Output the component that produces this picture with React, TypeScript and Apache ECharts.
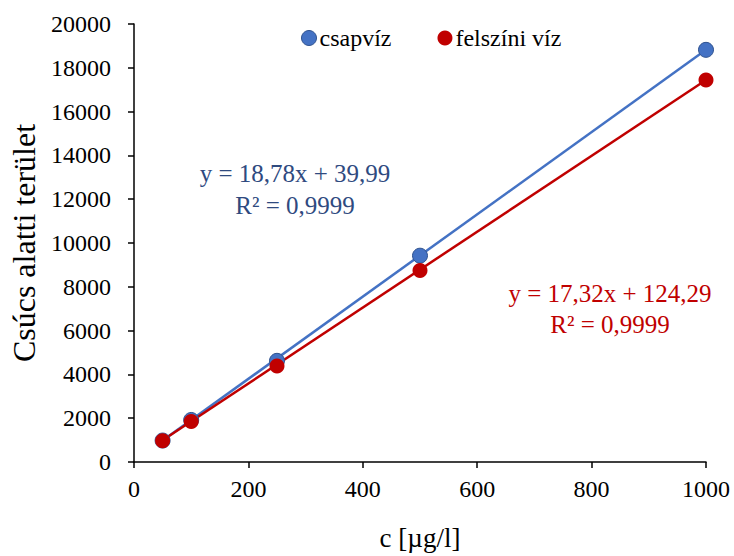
import React, { useEffect, useRef } from "react";
import * as echarts from "echarts";

const concentrations = [50, 100, 250, 500, 1000];
const tapWater = [980, 1920, 4620, 9420, 18820];
const surfaceWater = [970, 1850, 4380, 8740, 17440];
const seriesNames = ["csapvíz", "felszíni víz"];
const trendSlopes = [18.78, 17.32];
const trendIntercepts = [39.99, 124.29];
const trendRange = [50, 1000];
const eqLabels = ["y = 18,78x + 39,99\nR² = 0,9999", "y = 17,32x + 124,29\nR² = 0,9999"];

const FONT = "Liberation Serif";
const BLUE = "#4472C4";
const RED = "#C00000";

export default function App() {
  const ref = useRef<HTMLDivElement>(null);
  useEffect(() => {
    if (!ref.current) return;
    const chart = echarts.init(ref.current, undefined, { renderer: "svg" });
    const trend = (i: number) => trendRange.map((x) => [x, trendSlopes[i] * x + trendIntercepts[i]]);
    const axisLabelBase = {
      fontFamily: FONT,
      fontSize: 24,
      color: "#000",
      formatter: (v: number) => String(v),
    };
    chart.setOption({
      animation: false,
      textStyle: { fontFamily: FONT },
      grid: { left: 134, right: 28, top: 24, bottom: 92 },
      legend: {
        top: 21,
        left: 296,
        itemGap: 46,
        itemWidth: 15,
        itemHeight: 15,
        icon: "circle",
        textStyle: { fontFamily: FONT, fontSize: 24, color: "#000", padding: [0, 0, 0, -2] },
        data: [
          { name: seriesNames[0], itemStyle: { color: BLUE, borderColor: "#2F528F", borderWidth: 1, opacity: 1 } },
          { name: seriesNames[1], itemStyle: { color: RED, opacity: 1 } },
        ],
      },
      xAxis: {
        type: "value",
        min: 0,
        max: 1000,
        interval: 200,
        name: "c [µg/l]",
        nameLocation: "middle",
        nameGap: 62,
        nameTextStyle: { fontFamily: FONT, fontSize: 27, color: "#000" },
        axisLine: { show: true, lineStyle: { color: "#000", width: 1.5 } },
        axisTick: { show: true, length: 6, lineStyle: { color: "#000", width: 1.5 } },
        axisLabel: { ...axisLabelBase, margin: 15 },
        splitLine: { show: false },
      },
      yAxis: {
        type: "value",
        min: 0,
        max: 20000,
        interval: 2000,
        name: "Csúcs alatti terület",
        nameLocation: "middle",
        nameGap: 93,
        nameTextStyle: { fontFamily: FONT, fontSize: 32, color: "#000" },
        axisLine: { show: true, lineStyle: { color: "#000", width: 1.5 } },
        axisTick: { show: true, length: 6, lineStyle: { color: "#000", width: 1.5 } },
        axisLabel: { ...axisLabelBase, margin: 23 },
        splitLine: { show: false },
      },
      series: [
        {
          name: seriesNames[0] + " trend",
          type: "line",
          data: trend(0),
          showSymbol: false,
          symbol: "none",
          lineStyle: { color: BLUE, width: 2.5 },
          silent: true,
          z: 1,
        },
        {
          name: seriesNames[1] + " trend",
          type: "line",
          data: trend(1),
          showSymbol: false,
          symbol: "none",
          lineStyle: { color: RED, width: 2.5 },
          silent: true,
          z: 1,
        },
        {
          name: seriesNames[0],
          type: "scatter",
          data: concentrations.map((c, i) => [c, tapWater[i]]),
          symbol: "circle",
          symbolSize: 15,
          itemStyle: { color: BLUE, borderColor: "#2F528F", borderWidth: 1, opacity: 1 },
          z: 3,
        },
        {
          name: seriesNames[1],
          type: "scatter",
          data: concentrations.map((c, i) => [c, surfaceWater[i]]),
          symbol: "circle",
          symbolSize: 15,
          itemStyle: { color: RED, opacity: 1 },
          z: 4,
        },
      ],
      graphic: [
        {
          type: "text",
          x: 295,
          y: 157,
          style: {
            text: eqLabels[0],
            fontFamily: FONT,
            fontSize: 25,
            fill: "#2F4A7F",
            textAlign: "center",
            lineHeight: 32,
          },
        },
        {
          type: "text",
          x: 610,
          y: 278,
          style: {
            text: eqLabels[1],
            fontFamily: FONT,
            fontSize: 25,
            fill: RED,
            textAlign: "center",
            lineHeight: 31,
          },
        },
      ],
    });
    return () => chart.dispose();
  }, []);
  return <div ref={ref} style={{ width: 734, height: 556, position: "absolute", left: 0, top: 0 }} />;
}
